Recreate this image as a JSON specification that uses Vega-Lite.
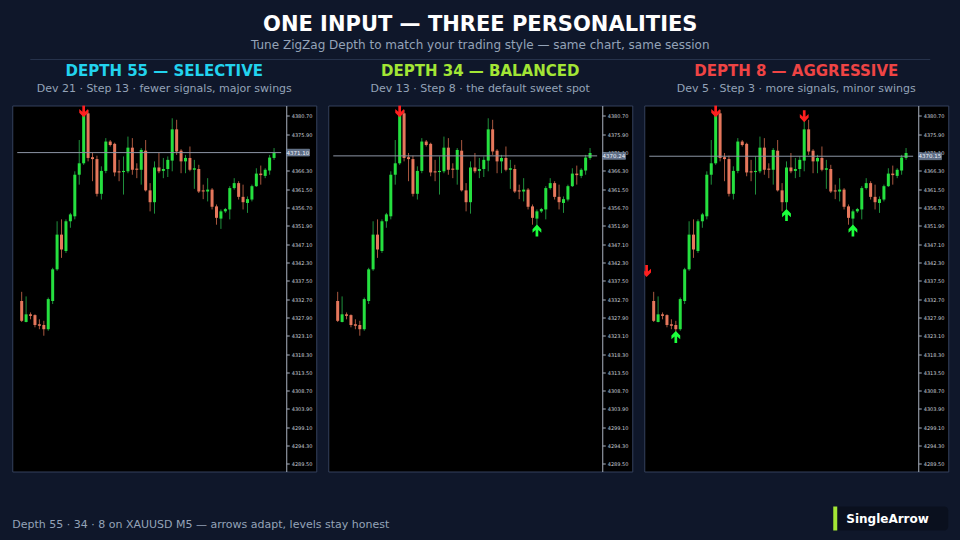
{
  "$schema": "https://vega.github.io/schema/vega-lite/v6.json",
  "background": "#0f172a",
  "padding": {"left": 11, "right": 12, "top": 14, "bottom": 40},
  "config": {
    "view": {"stroke": null},
    "font": "DejaVu Sans",
    "axis": {"labelOverlap": false}
  },
  "title": {
    "text": "ONE INPUT — THREE PERSONALITIES",
    "subtitle": "Tune ZigZag Depth to match your trading style — same chart, same session",
    "anchor": "middle",
    "font": "DejaVu Sans",
    "fontSize": 21,
    "fontWeight": "bold",
    "color": "#ffffff",
    "subtitleFont": "DejaVu Sans",
    "subtitleFontSize": 12,
    "subtitleColor": "#94a3b8",
    "subtitlePadding": 5,
    "offset": 8
  },
  "datasets": {
    "candles": [
      {"i":1,"o":4332.2,"h":4334.6,"l":4326.7,"c":4327.0},
      {"i":2,"o":4326.7,"h":4333.4,"l":4326.6,"c":4328.7},
      {"i":3,"o":4328.7,"h":4329.2,"l":4327.4,"c":4328.3},
      {"i":4,"o":4328.5,"h":4328.7,"l":4325.3,"c":4325.9},
      {"i":5,"o":4326.1,"h":4327.4,"l":4324.8,"c":4325.7},
      {"i":6,"o":4325.9,"h":4327.0,"l":4323.1,"c":4324.8},
      {"i":7,"o":4324.8,"h":4333.1,"l":4324.4,"c":4332.7},
      {"i":8,"o":4332.2,"h":4340.9,"l":4331.4,"c":4340.5},
      {"i":9,"o":4340.5,"h":4353.1,"l":4340.1,"c":4349.6},
      {"i":10,"o":4349.6,"h":4353.6,"l":4343.5,"c":4345.7},
      {"i":11,"o":4345.3,"h":4353.6,"l":4344.8,"c":4353.1},
      {"i":12,"o":4353.1,"h":4355.3,"l":4351.4,"c":4354.9},
      {"i":13,"o":4354.4,"h":4366.2,"l":4353.6,"c":4365.3},
      {"i":14,"o":4365.3,"h":4374.4,"l":4362.7,"c":4368.3},
      {"i":15,"o":4368.3,"h":4382.7,"l":4367.9,"c":4381.0},
      {"i":16,"o":4381.4,"h":4382.3,"l":4368.8,"c":4369.7},
      {"i":17,"o":4369.9,"h":4371.0,"l":4363.6,"c":4369.4},
      {"i":18,"o":4369.4,"h":4370.3,"l":4359.6,"c":4360.3},
      {"i":19,"o":4360.3,"h":4367.5,"l":4358.8,"c":4366.3},
      {"i":20,"o":4366.3,"h":4374.9,"l":4365.7,"c":4374.0},
      {"i":21,"o":4374.0,"h":4374.4,"l":4372.7,"c":4373.1},
      {"i":22,"o":4373.4,"h":4373.7,"l":4364.9,"c":4365.9},
      {"i":23,"o":4366.2,"h":4369.2,"l":4363.6,"c":4365.9},
      {"i":24,"o":4366.0,"h":4370.1,"l":4360.1,"c":4366.3},
      {"i":25,"o":4366.2,"h":4375.3,"l":4365.7,"c":4372.4},
      {"i":26,"o":4372.4,"h":4374.9,"l":4365.3,"c":4366.6},
      {"i":27,"o":4366.9,"h":4368.3,"l":4364.4,"c":4366.6},
      {"i":28,"o":4366.6,"h":4372.3,"l":4362.7,"c":4371.8},
      {"i":29,"o":4371.6,"h":4374.4,"l":4360.9,"c":4361.2},
      {"i":30,"o":4361.2,"h":4363.1,"l":4355.7,"c":4358.1},
      {"i":31,"o":4358.1,"h":4368.8,"l":4355.1,"c":4367.2},
      {"i":32,"o":4367.2,"h":4371.0,"l":4365.7,"c":4366.2},
      {"i":33,"o":4366.3,"h":4369.7,"l":4364.4,"c":4366.8},
      {"i":34,"o":4366.8,"h":4370.1,"l":4364.7,"c":4369.2},
      {"i":35,"o":4369.0,"h":4380.1,"l":4366.2,"c":4377.2},
      {"i":36,"o":4377.2,"h":4379.7,"l":4370.5,"c":4371.4},
      {"i":37,"o":4371.6,"h":4372.0,"l":4365.7,"c":4368.8},
      {"i":38,"o":4368.8,"h":4370.5,"l":4365.7,"c":4369.7},
      {"i":39,"o":4369.7,"h":4372.7,"l":4366.2,"c":4366.6},
      {"i":40,"o":4366.6,"h":4369.2,"l":4361.6,"c":4367.0},
      {"i":41,"o":4366.8,"h":4367.9,"l":4360.5,"c":4360.9},
      {"i":42,"o":4361.2,"h":4362.7,"l":4358.9,"c":4360.9},
      {"i":43,"o":4360.9,"h":4364.4,"l":4358.3,"c":4361.4},
      {"i":44,"o":4361.4,"h":4361.8,"l":4356.2,"c":4356.9},
      {"i":45,"o":4357.0,"h":4357.5,"l":4352.2,"c":4354.0},
      {"i":46,"o":4353.8,"h":4356.2,"l":4351.1,"c":4355.7},
      {"i":47,"o":4355.7,"h":4356.6,"l":4355.3,"c":4356.3},
      {"i":48,"o":4356.2,"h":4362.3,"l":4353.6,"c":4361.8},
      {"i":49,"o":4361.8,"h":4364.4,"l":4361.4,"c":4363.1},
      {"i":50,"o":4363.1,"h":4363.6,"l":4358.8,"c":4359.5},
      {"i":51,"o":4359.5,"h":4362.7,"l":4356.2,"c":4358.1},
      {"i":52,"o":4357.9,"h":4359.6,"l":4355.3,"c":4358.9},
      {"i":53,"o":4358.8,"h":4362.7,"l":4358.3,"c":4362.3},
      {"i":54,"o":4362.3,"h":4367.0,"l":4362.1,"c":4365.6},
      {"i":55,"o":4365.6,"h":4367.7,"l":4362.7,"c":4365.2},
      {"i":56,"o":4365.0,"h":4367.0,"l":4364.4,"c":4366.6},
      {"i":57,"o":4366.4,"h":4370.5,"l":4365.3,"c":4369.8},
      {"i":58,"o":4369.7,"h":4372.3,"l":4369.2,"c":4371.0}
    ]
  },
  "vconcat": [
    {
      "width": 900,
      "height": 1,
      "data": {"values": [{"s": 1}]},
      "mark": {"type": "rule", "color": "#26324b", "strokeWidth": 1},
      "encoding": {"y": {"value": 0.5}}
    },
    {
      "vconcat": [
        {
          "hconcat": [
            {
              "width": 304,
              "height": 366,
              "view": {"fill": "#000000", "stroke": "#34415c"},
              "title": {"text": "DEPTH 55 — SELECTIVE", "subtitle": "Dev 21 · Step 13 · fewer signals, major swings", "color": "#22d3ee", "font": "DejaVu Sans", "fontSize": 15, "fontWeight": "bold", "anchor": "middle", "subtitleColor": "#94a3b8", "subtitleFont": "DejaVu Sans", "subtitleFontSize": 11, "subtitlePadding": 4, "offset": 12},
              "layer": [
                {
                  "data": {"name": "candles"},
                  "mark": {"type": "rule", "strokeWidth": 1},
                  "encoding": {
                    "x": {"field": "i", "type": "quantitative", "scale": {"domain": [0, 66.4], "nice": false, "zero": false}, "axis": null},
                    "y": {"field": "l", "type": "quantitative", "scale": {"domain": [4287.5, 4383.45], "nice": false, "zero": false},
                      "axis": {"orient": "right", "offset": -30, "title": null, "grid": false, "labelOverlap": false, "tickCount": 40, "values": [4289.5,4294.3,4299.1,4303.9,4308.7,4313.5,4318.3,4323.1,4327.9,4332.7,4337.5,4342.3,4347.1,4351.9,4356.7,4361.5,4366.3,4375.9,4380.7], "format": ".2f", "labelFontSize": 5, "labelFont": "DejaVu Sans", "labelColor": "#c9ced8", "tickColor": "#aab2c0", "tickSize": 3, "domainColor": "#aab2c0", "labelPadding": 2}},
                    "y2": {"field": "h"},
                    "color": {"condition": {"test": "datum.c > datum.o", "value": "#1f8f3c"}, "value": "#a8573f"}
                  }
                },
                {
                  "data": {"name": "candles"},
                  "mark": {"type": "bar", "width": 3},
                  "encoding": {
                    "x": {"field": "i", "type": "quantitative", "scale": {"domain": [0, 66.4], "nice": false, "zero": false}},
                    "y": {"field": "o", "type": "quantitative", "scale": {"domain": [4287.5, 4383.45], "nice": false, "zero": false}},
                    "y2": {"field": "c"},
                    "color": {"condition": {"test": "datum.c > datum.o", "value": "#25e03f"}, "value": "#e5775c"}
                  }
                },
                {
                  "data": {"values": [{"price": 4371.1, "label": "4371.10"}]},
                  "mark": {"type": "rule", "color": "#8d96a6", "strokeWidth": 1},
                  "encoding": {"y": {"field": "price", "type": "quantitative"}, "x": {"datum": 0}, "x2": {"datum": 59.6}}
                },
                {
                  "data": {"values": [{"price": 4371.1, "label": "4371.10"}]},
                  "mark": {"type": "point", "filled": true, "shape": "M-1,-0.3L1,-0.3L1,0.3L-1,0.3Z", "size": 529, "color": "#5d6d86", "stroke": "#8fa0b8", "strokeWidth": 0.5, "opacity": 1},
                  "encoding": {"y": {"field": "price", "type": "quantitative"}, "x": {"datum": 63.4}}
                },
                {
                  "data": {"values": [{"price": 4371.1, "label": "4371.10"}]},
                  "mark": {"type": "text", "fontSize": 5.5, "color": "#eef2f7", "font": "DejaVu Sans"},
                  "encoding": {"y": {"field": "price", "type": "quantitative"}, "x": {"datum": 63.4}, "text": {"field": "label"}}
                },
                {
                  "data": {"values": [{"i": 15, "p": 4381.9, "dir": "down"}]},
                  "mark": {"type": "point", "filled": true, "size": 150, "opacity": 1, "clip": true},
                  "encoding": {
                    "x": {"field": "i", "type": "quantitative"},
                    "y": {"field": "p", "type": "quantitative"},
                    "shape": {"field": "dir", "type": "nominal", "scale": {"domain": ["down", "up"], "range": ["M-0.22,-1L0.22,-1L0.22,0.05L0.72,-0.4L0.72,0.2L0,0.95L-0.72,0.2L-0.72,-0.4L-0.22,0.05Z", "M-0.22,1L0.22,1L0.22,-0.05L0.72,0.4L0.72,-0.2L0,-0.95L-0.72,-0.2L-0.72,0.4L-0.22,-0.05Z"]}, "legend": null},
                    "color": {"field": "dir", "type": "nominal", "scale": {"domain": ["down", "up"], "range": ["#ff1f1f", "#1cff3c"]}, "legend": null}
                  }
                }
              ]
            },
            {
              "width": 304,
              "height": 366,
              "view": {"fill": "#000000", "stroke": "#34415c"},
              "title": {"text": "DEPTH 34 — BALANCED", "subtitle": "Dev 13 · Step 8 · the default sweet spot", "color": "#a3e635", "font": "DejaVu Sans", "fontSize": 15, "fontWeight": "bold", "anchor": "middle", "subtitleColor": "#94a3b8", "subtitleFont": "DejaVu Sans", "subtitleFontSize": 11, "subtitlePadding": 4, "offset": 12},
              "layer": [
                {
                  "data": {"name": "candles"},
                  "mark": {"type": "rule", "strokeWidth": 1},
                  "encoding": {
                    "x": {"field": "i", "type": "quantitative", "scale": {"domain": [0, 66.4], "nice": false, "zero": false}, "axis": null},
                    "y": {"field": "l", "type": "quantitative", "scale": {"domain": [4287.5, 4383.45], "nice": false, "zero": false},
                      "axis": {"orient": "right", "offset": -30, "title": null, "grid": false, "labelOverlap": false, "tickCount": 40, "values": [4289.5,4294.3,4299.1,4303.9,4308.7,4313.5,4318.3,4323.1,4327.9,4332.7,4337.5,4342.3,4347.1,4351.9,4356.7,4361.5,4366.3,4371.1,4375.9,4380.7], "format": ".2f", "labelFontSize": 5, "labelFont": "DejaVu Sans", "labelColor": "#c9ced8", "tickColor": "#aab2c0", "tickSize": 3, "domainColor": "#aab2c0", "labelPadding": 2}},
                    "y2": {"field": "h"},
                    "color": {"condition": {"test": "datum.c > datum.o", "value": "#1f8f3c"}, "value": "#a8573f"}
                  }
                },
                {
                  "data": {"name": "candles"},
                  "mark": {"type": "bar", "width": 3},
                  "encoding": {
                    "x": {"field": "i", "type": "quantitative", "scale": {"domain": [0, 66.4], "nice": false, "zero": false}},
                    "y": {"field": "o", "type": "quantitative", "scale": {"domain": [4287.5, 4383.45], "nice": false, "zero": false}},
                    "y2": {"field": "c"},
                    "color": {"condition": {"test": "datum.c > datum.o", "value": "#25e03f"}, "value": "#e5775c"}
                  }
                },
                {
                  "data": {"values": [{"price": 4370.24, "label": "4370.24"}]},
                  "mark": {"type": "rule", "color": "#8d96a6", "strokeWidth": 1},
                  "encoding": {"y": {"field": "price", "type": "quantitative"}, "x": {"datum": 0}, "x2": {"datum": 59.6}}
                },
                {
                  "data": {"values": [{"price": 4370.24, "label": "4370.24"}]},
                  "mark": {"type": "point", "filled": true, "shape": "M-1,-0.3L1,-0.3L1,0.3L-1,0.3Z", "size": 529, "color": "#5d6d86", "stroke": "#8fa0b8", "strokeWidth": 0.5, "opacity": 1},
                  "encoding": {"y": {"field": "price", "type": "quantitative"}, "x": {"datum": 63.4}}
                },
                {
                  "data": {"values": [{"price": 4370.24, "label": "4370.24"}]},
                  "mark": {"type": "text", "fontSize": 5.5, "color": "#eef2f7", "font": "DejaVu Sans"},
                  "encoding": {"y": {"field": "price", "type": "quantitative"}, "x": {"datum": 63.4}, "text": {"field": "label"}}
                },
                {
                  "data": {"values": [{"i": 15, "p": 4381.9, "dir": "down"}, {"i": 46, "p": 4350.7, "dir": "up"}]},
                  "mark": {"type": "point", "filled": true, "size": 150, "opacity": 1, "clip": true},
                  "encoding": {
                    "x": {"field": "i", "type": "quantitative"},
                    "y": {"field": "p", "type": "quantitative"},
                    "shape": {"field": "dir", "type": "nominal", "scale": {"domain": ["down", "up"], "range": ["M-0.22,-1L0.22,-1L0.22,0.05L0.72,-0.4L0.72,0.2L0,0.95L-0.72,0.2L-0.72,-0.4L-0.22,0.05Z", "M-0.22,1L0.22,1L0.22,-0.05L0.72,0.4L0.72,-0.2L0,-0.95L-0.72,-0.2L-0.72,0.4L-0.22,-0.05Z"]}, "legend": null},
                    "color": {"field": "dir", "type": "nominal", "scale": {"domain": ["down", "up"], "range": ["#ff1f1f", "#1cff3c"]}, "legend": null}
                  }
                }
              ]
            },
            {
              "width": 304,
              "height": 366,
              "view": {"fill": "#000000", "stroke": "#34415c"},
              "title": {"text": "DEPTH 8 — AGGRESSIVE", "subtitle": "Dev 5 · Step 3 · more signals, minor swings", "color": "#ef4444", "font": "DejaVu Sans", "fontSize": 15, "fontWeight": "bold", "anchor": "middle", "subtitleColor": "#94a3b8", "subtitleFont": "DejaVu Sans", "subtitleFontSize": 11, "subtitlePadding": 4, "offset": 12},
              "layer": [
                {
                  "data": {"name": "candles"},
                  "mark": {"type": "rule", "strokeWidth": 1},
                  "encoding": {
                    "x": {"field": "i", "type": "quantitative", "scale": {"domain": [0, 66.4], "nice": false, "zero": false}, "axis": null},
                    "y": {"field": "l", "type": "quantitative", "scale": {"domain": [4287.5, 4383.45], "nice": false, "zero": false},
                      "axis": {"orient": "right", "offset": -30, "title": null, "grid": false, "labelOverlap": false, "tickCount": 40, "values": [4289.5,4294.3,4299.1,4303.9,4308.7,4313.5,4318.3,4323.1,4327.9,4332.7,4337.5,4342.3,4347.1,4351.9,4356.7,4361.5,4366.3,4371.1,4375.9,4380.7], "format": ".2f", "labelFontSize": 5, "labelFont": "DejaVu Sans", "labelColor": "#c9ced8", "tickColor": "#aab2c0", "tickSize": 3, "domainColor": "#aab2c0", "labelPadding": 2}},
                    "y2": {"field": "h"},
                    "color": {"condition": {"test": "datum.c > datum.o", "value": "#1f8f3c"}, "value": "#a8573f"}
                  }
                },
                {
                  "data": {"name": "candles"},
                  "mark": {"type": "bar", "width": 3},
                  "encoding": {
                    "x": {"field": "i", "type": "quantitative", "scale": {"domain": [0, 66.4], "nice": false, "zero": false}},
                    "y": {"field": "o", "type": "quantitative", "scale": {"domain": [4287.5, 4383.45], "nice": false, "zero": false}},
                    "y2": {"field": "c"},
                    "color": {"condition": {"test": "datum.c > datum.o", "value": "#25e03f"}, "value": "#e5775c"}
                  }
                },
                {
                  "data": {"values": [{"price": 4370.15, "label": "4370.15"}]},
                  "mark": {"type": "rule", "color": "#8d96a6", "strokeWidth": 1},
                  "encoding": {"y": {"field": "price", "type": "quantitative"}, "x": {"datum": 0}, "x2": {"datum": 59.6}}
                },
                {
                  "data": {"values": [{"price": 4370.15, "label": "4370.15"}]},
                  "mark": {"type": "point", "filled": true, "shape": "M-1,-0.3L1,-0.3L1,0.3L-1,0.3Z", "size": 529, "color": "#5d6d86", "stroke": "#8fa0b8", "strokeWidth": 0.5, "opacity": 1},
                  "encoding": {"y": {"field": "price", "type": "quantitative"}, "x": {"datum": 63.4}}
                },
                {
                  "data": {"values": [{"price": 4370.15, "label": "4370.15"}]},
                  "mark": {"type": "text", "fontSize": 5.5, "color": "#eef2f7", "font": "DejaVu Sans"},
                  "encoding": {"y": {"field": "price", "type": "quantitative"}, "x": {"datum": 63.4}, "text": {"field": "label"}}
                },
                {
                  "data": {"values": [{"i": -0.6, "p": 4340.0, "dir": "down"}, {"i": 6, "p": 4322.8, "dir": "up"}, {"i": 15, "p": 4381.9, "dir": "down"}, {"i": 31, "p": 4354.8, "dir": "up"}, {"i": 35, "p": 4380.6, "dir": "down"}, {"i": 46, "p": 4350.7, "dir": "up"}]},
                  "mark": {"type": "point", "filled": true, "size": 150, "opacity": 1, "clip": true},
                  "encoding": {
                    "x": {"field": "i", "type": "quantitative"},
                    "y": {"field": "p", "type": "quantitative"},
                    "shape": {"field": "dir", "type": "nominal", "scale": {"domain": ["down", "up"], "range": ["M-0.22,-1L0.22,-1L0.22,0.05L0.72,-0.4L0.72,0.2L0,0.95L-0.72,0.2L-0.72,-0.4L-0.22,0.05Z", "M-0.22,1L0.22,1L0.22,-0.05L0.72,0.4L0.72,-0.2L0,-0.95L-0.72,-0.2L-0.72,0.4L-0.22,-0.05Z"]}, "legend": null},
                    "color": {"field": "dir", "type": "nominal", "scale": {"domain": ["down", "up"], "range": ["#ff1f1f", "#1cff3c"]}, "legend": null}
                  }
                }
              ]
            }
          ],
          "spacing": 10
        },
        {
          "hconcat": [
            {
              "width": 809,
              "height": 24,
              "data": {"values": [{"t": "Depth 55 · 34 · 8 on XAUUSD M5 — arrows adapt, levels stay honest"}]},
              "mark": {"type": "text", "align": "left", "baseline": "middle", "fontSize": 11, "color": "#94a3b8", "font": "DejaVu Sans"},
              "encoding": {"text": {"field": "t"}, "x": {"value": 0}, "y": {"value": 18}}
            },
            {
              "width": 115,
              "height": 24,
              "view": {"fill": "#0a101e", "stroke": null, "cornerRadius": 4},
              "data": {"values": [{"brand": "SingleArrow"}]},
              "layer": [
                {
                  "mark": {"type": "rule", "color": "#a3e635", "strokeWidth": 4},
                  "encoding": {"x": {"value": 2}, "y": {"value": 0}, "y2": {"value": 24}}
                },
                {
                  "mark": {"type": "text", "align": "left", "baseline": "middle", "fontSize": 12, "fontWeight": "bold", "color": "#ffffff", "font": "DejaVu Sans"},
                  "encoding": {"text": {"field": "brand"}, "x": {"value": 13}, "y": {"value": 12}}
                }
              ]
            }
          ],
          "spacing": 12
        }
      ],
      "spacing": 32
    }
  ],
  "spacing": 2.5,
  "center": true
}
